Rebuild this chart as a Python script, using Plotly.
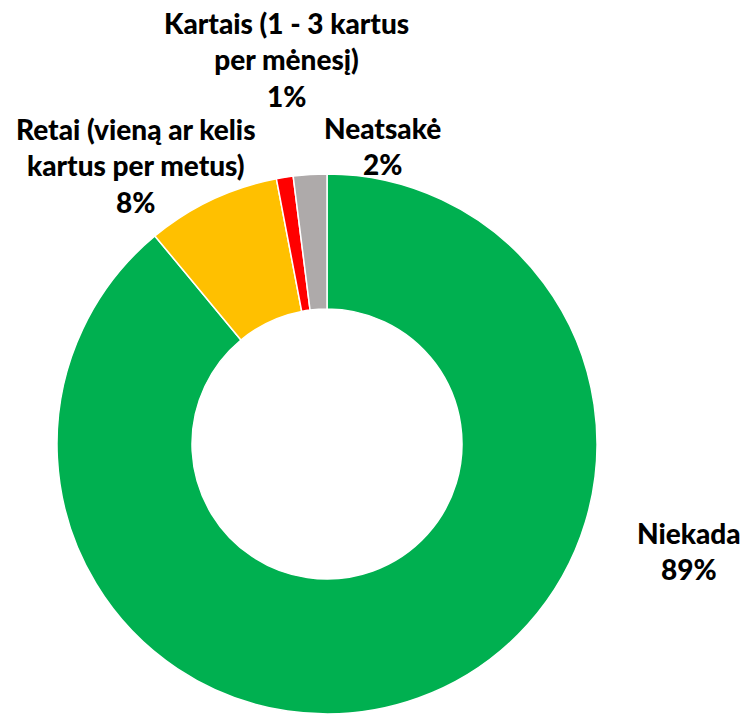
import plotly.graph_objects as go

W, H = 744, 714

# Survey answers and their shares (%)
labels = ["Niekada", "Retai (vieną ar kelis kartus per metus)", "Kartais (1 - 3 kartus per mėnesį)", "Neatsakė"]
values = [89, 8, 1, 2]
colors = ["#00B050", "#FFC000", "#FF0000", "#AEAAAA"]

# Label text blocks (line-broken) and their centres in pixels
label_lines = [
    ["Niekada"],
    ["Retai (vieną ar kelis", "kartus per metus)"],
    ["Kartais (1 - 3 kartus", "per mėnesį)"],
    ["Neatsakė"],
]
label_pos = [(689, 551), (136, 165), (286, 59), (382, 146)]

FONT = "Lato, Liberation Sans, sans-serif"

fig = go.Figure(
    go.Pie(
        labels=labels,
        values=values,
        hole=0.5,
        sort=False,
        direction="clockwise",
        rotation=0,
        marker=dict(colors=colors, line=dict(color="white", width=1.5)),
        textinfo="none",
        hoverinfo="label+percent",
        showlegend=False,
        domain=dict(x=[55 / W, 599 / W], y=[0, 1 - 174 / H]),
    )
)

for lines, v, (px, py) in zip(label_lines, values, label_pos):
    text = "<br>".join(lines) + f"<br>{v}%"
    fig.add_annotation(
        x=px / W, y=1 - py / H, xref="paper", yref="paper",
        text=text, showarrow=False, xanchor="center", yanchor="middle",
        align="center",
        font=dict(family=FONT, size=28, color="#000000", weight=900),
    )

fig.update_layout(
    width=W, height=H,
    margin=dict(l=0, r=0, t=0, b=0),
    paper_bgcolor="white", plot_bgcolor="white",
)

fig.write_html("out.html")
